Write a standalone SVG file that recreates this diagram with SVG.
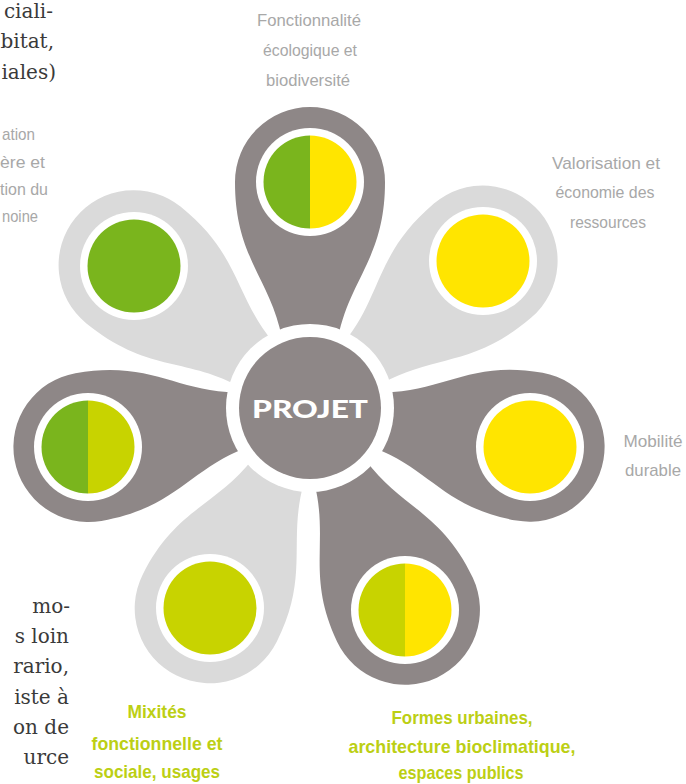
<svg xmlns="http://www.w3.org/2000/svg" width="686" height="784" viewBox="0 0 686 784">
<defs>
<style>
.dark{fill:#8e8787}
.light{fill:#dadada}
.ring{fill:#ffffff}
.g{fill:#7ab51d}
.y{fill:#ffe500}
.yg{fill:#c8d300}
.lbl{font-family:"Liberation Sans",Arial,sans-serif;font-size:17px;fill:#a8a8a8;text-anchor:middle}
.cut{font-family:"Liberation Sans",Arial,sans-serif;font-size:17px;fill:#a8a8a8}
.glbl{font-family:"Liberation Sans",Arial,sans-serif;font-size:19px;font-weight:bold;fill:#bccf14;text-anchor:middle}
.body{font-family:"DejaVu Serif","Liberation Serif",serif;font-size:20px;fill:#3a3a3a;text-anchor:end}
.hub{font-family:"Lato","Open Sans",sans-serif;font-size:25px;font-weight:900;fill:#ffffff;text-anchor:middle}
</style>
</defs>
<rect width="686" height="784" fill="#ffffff"/>

<g id="body-text">
<text class="body" x="53" y="18">ciali-</text>
<text class="body" x="54" y="48">bitat,</text>
<text class="body" x="56" y="79">iales)</text>
<text class="body" x="70" y="613">mo-</text>
<text class="body" x="69" y="643">s loin</text>
<text class="body" x="69" y="673">rario,</text>
<text class="body" x="69" y="704">iste à</text>
<text class="body" x="69" y="734">on de</text>
<text class="body" x="69" y="764">urce</text>
</g>

<g id="connectors">
<path id="petal-top" class="dark" transform="translate(310,408) rotate(-90)" d="M70,-28 C130,-40 150,-75 226,-75 A75,75 0 0 1 226,75 C150,75 130,40 70,28 Z"/>
<path id="petal-tl" class="light" transform="translate(310,408) rotate(-141)" d="M70,-28 C130,-40 150,-75 227,-75 A75,75 0 0 1 227,75 C150,75 130,40 70,28 Z"/>
<path id="petal-tr" class="light" transform="translate(310,408) rotate(-40.5)" d="M70,-28 C130,-40 150,-75 227,-75 A75,75 0 0 1 227,75 C150,75 130,40 70,28 Z"/>
<path id="petal-r" class="dark" transform="translate(310,408) rotate(10)" d="M70,-28 C130,-40 150,-75 223,-75 A75,75 0 0 1 223,75 C150,75 130,40 70,28 Z"/>
<path id="petal-l" class="dark" transform="translate(310,408) rotate(170)" d="M70,-28 C130,-40 150,-75 225,-75 A75,75 0 0 1 225,75 C150,75 130,40 70,28 Z"/>
<path id="petal-br" class="dark" transform="translate(310,408) rotate(64.8)" d="M70,-28 C130,-40 150,-75 223,-75 A75,75 0 0 1 223,75 C150,75 130,40 70,28 Z"/>
<path id="petal-bl" class="light" transform="translate(310,408) rotate(116.6)" d="M70,-28 C130,-40 150,-75 224,-75 A75,75 0 0 1 224,75 C150,75 130,40 70,28 Z"/>
</g>

<g id="projet">
<circle class="ring" cx="310" cy="408" r="84"/>
<circle class="dark" cx="310" cy="408" r="71"/>
<text class="hub" x="310" y="418" textLength="116" lengthAdjust="spacingAndGlyphs">PROJET</text>
</g>

<g id="node-fonctionnalite">
<circle class="ring" cx="310" cy="182" r="54"/>
<path class="g" d="M310,135.5 A46.5,46.5 0 0 0 310,228.5 Z"/>
<path class="y" d="M310,135.5 A46.5,46.5 0 0 1 310,228.5 Z"/>
<text class="lbl" x="309" y="26" textLength="104" lengthAdjust="spacingAndGlyphs">Fonctionnalité</text>
<text class="lbl" x="310" y="56" textLength="94" lengthAdjust="spacingAndGlyphs">écologique et</text>
<text class="lbl" x="308" y="86" textLength="84" lengthAdjust="spacingAndGlyphs">biodiversité</text>
</g>

<g id="node-patrimoine">
<circle class="ring" cx="134" cy="266" r="54"/>
<circle class="g" cx="134" cy="266" r="46.5"/>
<text class="cut" x="2" y="140" textLength="33" lengthAdjust="spacingAndGlyphs">ation</text>
<text class="cut" x="0" y="168" textLength="45" lengthAdjust="spacingAndGlyphs">ère et</text>
<text class="cut" x="0" y="195" textLength="48" lengthAdjust="spacingAndGlyphs">tion du</text>
<text class="cut" x="2" y="222" textLength="36" lengthAdjust="spacingAndGlyphs">noine</text>
</g>

<g id="node-ressources">
<circle class="ring" cx="483" cy="261" r="54"/>
<circle class="y" cx="483" cy="261" r="46.5"/>
<text class="lbl" x="606" y="169" textLength="108" lengthAdjust="spacingAndGlyphs">Valorisation et</text>
<text class="lbl" x="605" y="198" textLength="99" lengthAdjust="spacingAndGlyphs">économie des</text>
<text class="lbl" x="608" y="228" textLength="76" lengthAdjust="spacingAndGlyphs">ressources</text>
</g>

<g id="node-mobilite">
<circle class="ring" cx="530" cy="447" r="54"/>
<circle class="y" cx="530" cy="447" r="46.5"/>
<text class="lbl" x="653" y="447" textLength="59" lengthAdjust="spacingAndGlyphs">Mobilité</text>
<text class="lbl" x="653" y="476" textLength="56" lengthAdjust="spacingAndGlyphs">durable</text>
</g>

<g id="node-gauche">
<circle class="ring" cx="88" cy="447" r="54"/>
<path class="g" d="M88,400.5 A46.5,46.5 0 0 0 88,493.5 Z"/>
<path class="yg" d="M88,400.5 A46.5,46.5 0 0 1 88,493.5 Z"/>
</g>

<g id="node-mixites">
<circle class="ring" cx="210" cy="608" r="54"/>
<circle class="yg" cx="210" cy="608" r="46.5"/>
<text class="glbl" x="157" y="718" textLength="59" lengthAdjust="spacingAndGlyphs">Mixités</text>
<text class="glbl" x="157" y="750" textLength="131" lengthAdjust="spacingAndGlyphs">fonctionnelle et</text>
<text class="glbl" x="157" y="778" textLength="126" lengthAdjust="spacingAndGlyphs">sociale, usages</text>
</g>

<g id="node-formes">
<circle class="ring" cx="405" cy="610" r="54"/>
<path class="yg" d="M405,563.5 A46.5,46.5 0 0 0 405,656.5 Z"/>
<path class="y" d="M405,563.5 A46.5,46.5 0 0 1 405,656.5 Z"/>
<text class="glbl" x="462" y="724" textLength="141" lengthAdjust="spacingAndGlyphs">Formes urbaines,</text>
<text class="glbl" x="462" y="753" textLength="227" lengthAdjust="spacingAndGlyphs">architecture bioclimatique,</text>
<text class="glbl" x="461" y="779" textLength="125" lengthAdjust="spacingAndGlyphs">espaces publics</text>
</g>
</svg>
